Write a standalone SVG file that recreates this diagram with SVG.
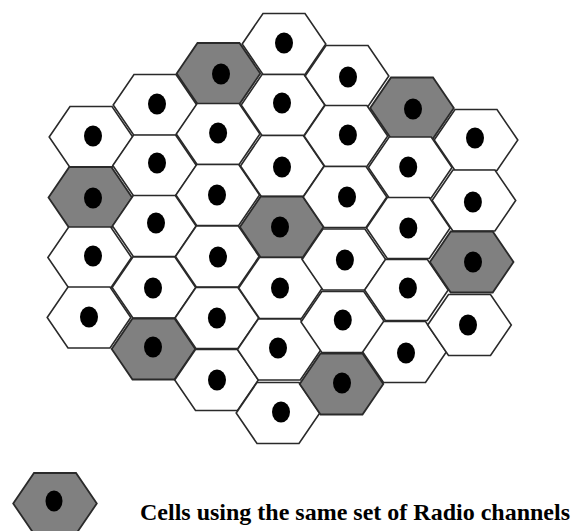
<svg xmlns="http://www.w3.org/2000/svg" xmlns:xlink="http://www.w3.org/1999/xlink" width="579" height="531" viewBox="0 0 579 531">
<style>
.w{fill:#ffffff;stroke:#2a2a2a;stroke-width:1.6;stroke-linejoin:miter}
.g{fill:#808080;stroke:#2a2a2a;stroke-width:1.8;stroke-linejoin:miter}
.d{fill:#000000}
.lbl{font-family:"Liberation Serif","Times New Roman",serif;font-weight:bold;font-size:24px;fill:#000}
</style>
<defs>
<polygon id="hex" points="-41.8,0 -21,-30.5 21,-30.5 41.8,0 21,30.5 -21,30.5"/>
</defs>
<rect width="579" height="531" fill="#ffffff"/>
<g id="cells">
<!-- column 0 -->
<g id="c0r0" transform="translate(91,137)"><use xlink:href="#hex" class="w"/><ellipse class="d" cx="2" cy="-1" rx="9" ry="10.5"/></g>
<g id="c0r1" transform="translate(90.3,197.5)"><use xlink:href="#hex" class="g"/><ellipse class="d" cx="2.7" cy="0.5" rx="9" ry="10.5"/></g>
<g id="c0r2" transform="translate(89.7,257.5)"><use xlink:href="#hex" class="w"/><ellipse class="d" cx="3.3" cy="-1.5" rx="9" ry="10.5"/></g>
<g id="c0r3" transform="translate(89,317.5)"><use xlink:href="#hex" class="w"/><ellipse class="d" cx="0" cy="-0.5" rx="9" ry="10.5"/></g>
<!-- column 1 -->
<g id="c1r0" transform="translate(155,105)"><use xlink:href="#hex" class="w"/><ellipse class="d" cx="2" cy="-1" rx="9" ry="10.5"/></g>
<g id="c1r1" transform="translate(154.6,165.5)"><use xlink:href="#hex" class="w"/><ellipse class="d" cx="2.4" cy="-2.5" rx="9" ry="10.5"/></g>
<g id="c1r2" transform="translate(154.3,226)"><use xlink:href="#hex" class="w"/><ellipse class="d" cx="1.7" cy="-3" rx="9" ry="10.5"/></g>
<g id="c1r3" transform="translate(153.9,287.5)"><use xlink:href="#hex" class="w"/><ellipse class="d" cx="-0.9" cy="0.5" rx="9" ry="10.5"/></g>
<g id="c1r4" transform="translate(153.5,349)"><use xlink:href="#hex" class="g"/><ellipse class="d" cx="-0.5" cy="-2" rx="9" ry="10.5"/></g>
<!-- column 2 -->
<g id="c2r0" transform="translate(218.5,73.5)"><use xlink:href="#hex" class="g"/><ellipse class="d" cx="2.5" cy="0.5" rx="9" ry="10.5"/></g>
<g id="c2r1" transform="translate(218.1,134)"><use xlink:href="#hex" class="w"/><ellipse class="d" cx="0" cy="-1" rx="9" ry="10.5"/></g>
<g id="c2r2" transform="translate(217.7,195)"><use xlink:href="#hex" class="w"/><ellipse class="d" cx="-0.7" cy="0" rx="9" ry="10.5"/></g>
<g id="c2r3" transform="translate(217.3,256.5)"><use xlink:href="#hex" class="w"/><ellipse class="d" cx="0.7" cy="0.5" rx="9" ry="10.5"/></g>
<g id="c2r4" transform="translate(216.9,318)"><use xlink:href="#hex" class="w"/><ellipse class="d" cx="0" cy="0" rx="9" ry="10.5"/></g>
<g id="c2r5" transform="translate(216.5,380)"><use xlink:href="#hex" class="w"/><ellipse class="d" cx="0.5" cy="0" rx="9" ry="10.5"/></g>
<!-- column 3 -->
<g id="c3r0" transform="translate(284,44)"><use xlink:href="#hex" class="w"/><ellipse class="d" cx="0" cy="-1" rx="9" ry="10.5"/></g>
<g id="c3r1" transform="translate(283,105)"><use xlink:href="#hex" class="w"/><ellipse class="d" cx="-1" cy="-2" rx="9" ry="10.5"/></g>
<g id="c3r2" transform="translate(282.3,166)"><use xlink:href="#hex" class="w"/><ellipse class="d" cx="-0.3" cy="1" rx="9" ry="10.5"/></g>
<g id="c3r3" transform="translate(281.7,227)"><use xlink:href="#hex" class="g"/><ellipse class="d" cx="-1.7" cy="0" rx="9" ry="10.5"/></g>
<g id="c3r4" transform="translate(280.5,288)"><use xlink:href="#hex" class="w"/><ellipse class="d" cx="-0.5" cy="0" rx="9" ry="10.5"/></g>
<g id="c3r5" transform="translate(279.3,349.5)"><use xlink:href="#hex" class="w"/><ellipse class="d" cx="-1.3" cy="-1.5" rx="9" ry="10.5"/></g>
<g id="c3r6" transform="translate(278,413)"><use xlink:href="#hex" class="w"/><ellipse class="d" cx="3" cy="-1" rx="9" ry="10.5"/></g>
<!-- column 4 -->
<g id="c4r0" transform="translate(347,76)"><use xlink:href="#hex" class="w"/><ellipse class="d" cx="1" cy="1" rx="9" ry="10.5"/></g>
<g id="c4r1" transform="translate(345.9,136)"><use xlink:href="#hex" class="w"/><ellipse class="d" cx="2" cy="-1" rx="9" ry="10.5"/></g>
<g id="c4r2" transform="translate(345,197)"><use xlink:href="#hex" class="w"/><ellipse class="d" cx="2" cy="0" rx="9" ry="10.5"/></g>
<g id="c4r3" transform="translate(343.9,259.5)"><use xlink:href="#hex" class="w"/><ellipse class="d" cx="1" cy="0.5" rx="9" ry="10.5"/></g>
<g id="c4r4" transform="translate(342.8,322)"><use xlink:href="#hex" class="w"/><ellipse class="d" cx="0" cy="-2" rx="9" ry="10.5"/></g>
<g id="c4r5" transform="translate(341.5,384)"><use xlink:href="#hex" class="g"/><ellipse class="d" cx="0.5" cy="-1" rx="9" ry="10.5"/></g>
<!-- column 5 -->
<g id="c5r0" transform="translate(412,108)"><use xlink:href="#hex" class="g"/><ellipse class="d" cx="1" cy="1" rx="9" ry="10.5"/></g>
<g id="c5r1" transform="translate(410.2,167.5)"><use xlink:href="#hex" class="w"/><ellipse class="d" cx="-2" cy="-0.5" rx="9" ry="10.5"/></g>
<g id="c5r2" transform="translate(408.3,228)"><use xlink:href="#hex" class="w"/><ellipse class="d" cx="0" cy="0" rx="9" ry="10.5"/></g>
<g id="c5r3" transform="translate(406.4,290)"><use xlink:href="#hex" class="w"/><ellipse class="d" cx="1.5" cy="-2" rx="9" ry="10.5"/></g>
<g id="c5r4" transform="translate(404.5,352)"><use xlink:href="#hex" class="w"/><ellipse class="d" cx="1.5" cy="1" rx="9" ry="10.5"/></g>
<!-- column 6 -->
<g id="c6r0" transform="translate(476,140)"><use xlink:href="#hex" class="w"/><ellipse class="d" cx="-1" cy="-2" rx="9" ry="10.5"/></g>
<g id="c6r1" transform="translate(473.9,200.5)"><use xlink:href="#hex" class="w"/><ellipse class="d" cx="-1" cy="1.5" rx="9" ry="10.5"/></g>
<g id="c6r2" transform="translate(471.7,262)"><use xlink:href="#hex" class="g"/><ellipse class="d" cx="1.3" cy="0" rx="9" ry="10.5"/></g>
<g id="c6r3" transform="translate(469.5,325)"><use xlink:href="#hex" class="w"/><ellipse class="d" cx="-1.5" cy="0" rx="9" ry="10.5"/></g>
</g>
<g id="legend">
<g id="legend-cell" transform="translate(55,503.5)"><use xlink:href="#hex" class="g"/><ellipse class="d" cx="-1" cy="-2.5" rx="8.5" ry="10.5"/></g>
<text id="legend-label" class="lbl" x="140" y="520">Cells using the same set of Radio channels</text>
</g>
</svg>
